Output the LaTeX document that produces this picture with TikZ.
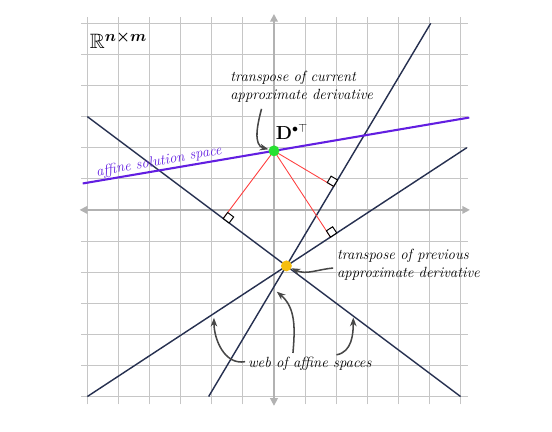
\documentclass[tikz,border=0pt]{standalone}
\usepackage{amsmath,amssymb}
\usetikzlibrary{arrows.meta,calc}

\definecolor{spacecol}{RGB}{38,48,80}
\definecolor{solcol}{RGB}{98,30,225}
\definecolor{curcol}{RGB}{40,225,50}
\definecolor{prevcol}{RGB}{245,190,15}

\begin{document}
\begin{tikzpicture}[x=1cm, y=1cm]
        \tikzstyle{gridline}=[gray!45, line width=0.7pt]
        \tikzstyle{axis}=[gray!60, line width=1.5pt, {Triangle[length=7pt,width=7pt]}-{Triangle[length=7pt,width=7pt]}]
        \tikzstyle{space}=[spacecol, line width=1.3pt]
        \tikzstyle{solution}=[solcol, line width=1.9pt]
        \tikzstyle{perp}=[red!75, line width=0.8pt]
        \tikzstyle{rightangle}=[draw=black, fill=white, line width=0.9pt]
        \tikzstyle{callout}=[black!72, line width=1.4pt, -{Stealth[length=8pt,width=6pt]}]
        \tikzstyle{label}=[font=\fontsize{13.5}{16.5}\selectfont\itshape, align=left, inner sep=0pt]
        \tikzstyle{dot}=[circle, minimum size=10pt, inner sep=0pt]

        \useasboundingbox (-8.81,-7.14) rectangle (8.94,6.75);

        % grid and axes
        \foreach \i in {-6,...,6} {
            \draw[gridline] (-6.2,\i) -- (6.25,\i);
            \draw[gridline] (\i,-6.25) -- (\i,6.2);
        }
        \draw[axis] (-6.25,0) -- (6.3,0);
        \draw[axis] (0,-6.3) -- (0,6.3);

        % the two derivatives
        \coordinate (G) at (0,1.9);
        \coordinate (Y) at (0.4,-1.8);

        % web of affine spaces
        \coordinate (A_1) at (-6,3);
        \coordinate (A_2) at (6,-6);
        \coordinate (B_1) at (-2.1,-6);
        \coordinate (B_2) at (5.04,6);
        \coordinate (C_1) at (-6,-6);
        \coordinate (C_2) at (6.2,2);
        \coordinate (S_1) at (-6.15,0.85);
        \coordinate (S_2) at (6.28,2.97);

        \draw[space] (A_1) -- (A_2);
        \draw[space] (B_1) -- (B_2);
        \draw[space] (C_1) -- (C_2);
        \draw[solution] (S_1) -- (S_2);

        % projections onto each space
        \coordinate (F_1) at ($(A_1)!(G)!(A_2)$);
        \coordinate (F_2) at ($(B_1)!(G)!(B_2)$);
        \coordinate (F_3) at ($(C_1)!(G)!(C_2)$);
        \foreach \f/\e in {F_1/A_2, F_2/B_2, F_3/C_2} {
            \draw[perp] (G) -- (\f);
            \coordinate (u) at ($(\f)!0.24cm!(G)$);
            \coordinate (v) at ($(\f)!0.24cm!(\e)$);
            \draw[rightangle] (\f) -- (u) -- ($(u)+(v)-(\f)$) -- (v) -- cycle;
        }

        \node[dot, fill=curcol] (G_1) at (G) {};
        \node[dot, fill=prevcol] (Y_1) at (Y) {};

        % labels
        \node[font=\fontsize{19}{22}\selectfont] (lblR) at (-5.0,5.47) {$\mathbb{R}^{\boldsymbol{n\times m}}$};
        \node[font=\fontsize{16}{18}\selectfont] (lblD) at (0.58,2.5) {$\mathbf{D}^{\bullet\top}$};
        \node[label, anchor=west] (lblCur) at (-1.41,3.95) {transpose of current\\approximate derivative};
        \node[label, anchor=west] (lblPrev) at (2.02,-1.77) {transpose of previous\\approximate derivative};
        \node[label, anchor=west] (lblWeb) at (-0.84,-4.95) {web of affine spaces};
        \node[label, solcol, rotate=10] (lblSol) at (-3.7,1.55) {affine solution space};

        % callouts
        \coordinate (c_1) at (-0.4,3.25);
        \coordinate (c_2) at (1.9,-1.87);
        \coordinate (w_1) at (-0.93,-4.88);
        \coordinate (w_2) at (0.61,-4.6);
        \coordinate (w_3) at (2.01,-4.66);
        \coordinate (t_1) at (-1.93,-3.47);
        \coordinate (t_2) at (0.09,-2.63);
        \coordinate (t_3) at (2.55,-3.46);

        \draw[callout] (c_1) to[out=255, in=165] (G_1);
        \draw[callout] (c_2) to[out=185, in=-25] (Y_1);
        \draw[callout] (w_1) to[out=190, in=-90] (t_1);
        \draw[callout] (w_2) to[out=85, in=-40] (t_2);
        \draw[callout] (w_3) to[out=10, in=-90] (t_3);
\end{tikzpicture}
\end{document}
